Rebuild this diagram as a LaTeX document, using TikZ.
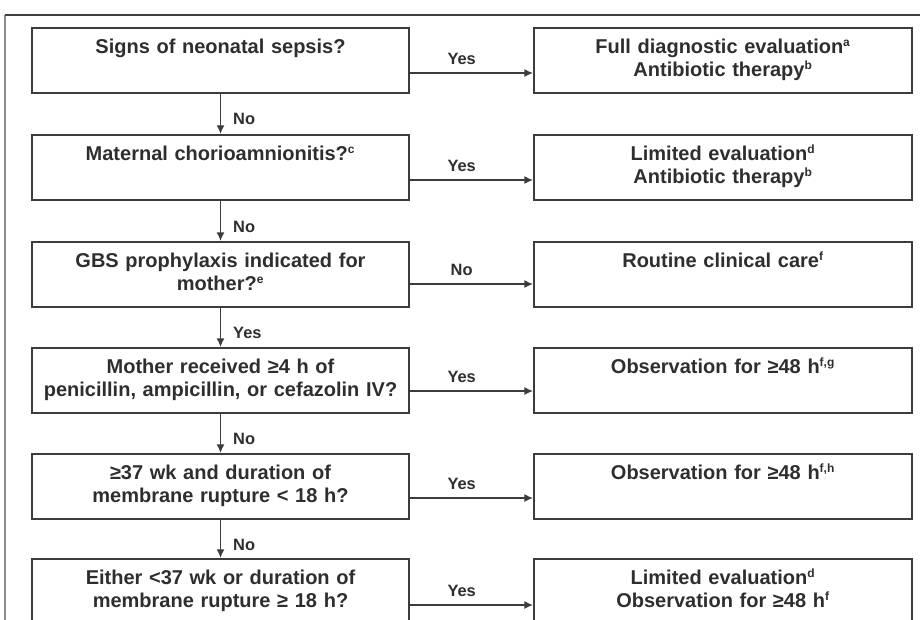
\documentclass[tikz,border=0pt]{standalone}
\usepackage{fontspec}
\setmainfont{Liberation Sans}
\usepackage{xcolor}
\usepackage{tikz}
\usetikzlibrary{arrows,arrows.meta,calc}
\definecolor{inkgray}{HTML}{2E2E2E}
\definecolor{linegray}{HTML}{3C3C3C}
\newcommand{\supr}[1]{\textsuperscript{\fontsize{9}{9}\selectfont #1}}

\tikzset{
    qbox/.style={draw=linegray, line width=1.4pt, anchor=north, inner sep=0pt,
        minimum width=282.75pt, minimum height=48.75pt, text width=276pt,
        align=center, text=inkgray, font=\bfseries\fontsize{15}{17.5}\selectfont,
        execute at begin node=\strut, execute at end node=\strut},
    abox/.style={qbox, minimum width=283.5pt},
    arr/.style={-{Latex[length=6.5pt,width=6pt]}, line width=1.1pt, linegray},
    lbl/.style={inner sep=0pt, text=inkgray, font=\bfseries\fontsize{12.3}{14}\selectfont}
}

\begin{document}
\begin{tikzpicture}[x=0.75pt, y=-0.75pt]
    \clip (0,0) rectangle (920,619);

    % outer frame
    \draw[black!45, line width=0.8pt] (5,15) -- (5,625);
    \draw[black!75, line width=0.8pt] (5,15) -- (925,15);

    % questions (left column)
    \node[qbox] (q1) at (220.5,27) {Signs of neonatal sepsis?\\ \strut};
    \node[qbox] (q2) at (220.5,134) {Maternal chorioamnionitis?\supr{c}\\ \strut};
    \node[qbox] (q3) at (220.5,241) {GBS prophylaxis indicated for\\ mother?\supr{e}};
    \node[qbox] (q4) at (220.5,347) {Mother received ≥4 h of\\ penicillin, ampicillin, or cefazolin IV?};
    \node[qbox] (q5) at (220.5,453) {≥37 wk and duration of\\ membrane rupture < 18 h?};
    \node[qbox] (q6) at (220.5,558) {Either <37 wk or duration of\\ membrane rupture ≥ 18 h?};

    % actions (right column)
    \node[abox] (a1) at (723,27) {Full diagnostic evaluation\supr{a}\\ Antibiotic therapy\supr{b}};
    \node[abox] (a2) at (723,134) {Limited evaluation\supr{d}\\ Antibiotic therapy\supr{b}};
    \node[abox] (a3) at (723,241) {Routine clinical care\supr{f}\\ \strut};
    \node[abox] (a4) at (723,347) {Observation for ≥48 h\supr{f,g}\\ \strut};
    \node[abox] (a5) at (723,453) {Observation for ≥48 h\supr{f,h}\\ \strut};
    \node[abox] (a6) at (723,558) {Limited evaluation\supr{d}\\ Observation for ≥48 h\supr{f}};

    % down the left column
    \draw[arr] (q1.south) -- node[lbl, pos=0.62, anchor=west, xshift=9pt] {No} (q2.north);
    \draw[arr] (q2.south) -- node[lbl, pos=0.65, anchor=west, xshift=9pt] {No} (q3.north);
    \draw[arr] (q3.south) -- node[lbl, pos=0.65, anchor=west, xshift=9pt] {Yes} (q4.north);
    \draw[arr] (q4.south) -- node[lbl, pos=0.65, anchor=west, xshift=9pt] {No} (q5.north);
    \draw[arr] (q5.south) -- node[lbl, pos=0.65, anchor=west, xshift=9pt] {No} (q6.north);

    % across to the actions
    \draw[arr] ($(q1.north east)+(0,46)$) -- node[lbl, pos=0.42, above=6pt] {Yes} ($(a1.north west)+(0,46)$);
    \draw[arr] ($(q2.north east)+(0,46)$) -- node[lbl, pos=0.42, above=6pt] {Yes} ($(a2.north west)+(0,46)$);
    \draw[arr] ($(q3.north east)+(0,43)$) -- node[lbl, pos=0.42, above=6pt] {No} ($(a3.north west)+(0,43)$);
    \draw[arr] ($(q4.north east)+(0,44)$) -- node[lbl, pos=0.42, above=6pt] {Yes} ($(a4.north west)+(0,44)$);
    \draw[arr] ($(q5.north east)+(0,45)$) -- node[lbl, pos=0.42, above=6pt] {Yes} ($(a5.north west)+(0,45)$);
    \draw[arr] ($(q6.north east)+(0,47)$) -- node[lbl, pos=0.42, above=6pt] {Yes} ($(a6.north west)+(0,47)$);
\end{tikzpicture}
\end{document}
